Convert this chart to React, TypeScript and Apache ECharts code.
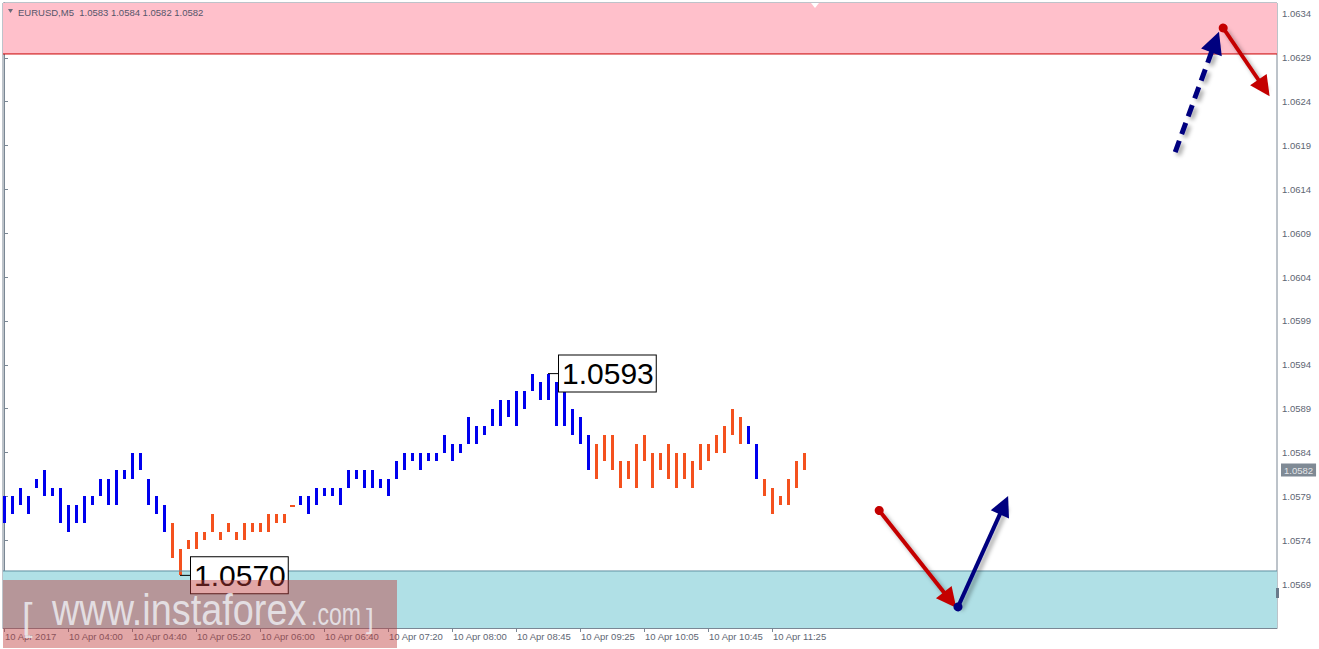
import React, { useEffect, useRef } from 'react';
import * as echarts from 'echarts';

// ---- data (EURUSD M5, 10 Apr 2017) ----
const highs = [
  1.0579, 1.0579, 1.0580, 1.0579, 1.0581, 1.0582, 1.0580, 1.0580, 1.0578, 1.0578,
  1.0579, 1.0579, 1.0581, 1.0581, 1.0582, 1.0582, 1.0584, 1.0584, 1.0581, 1.0579,
  1.0578, 1.0576, 1.0573, 1.0574, 1.0575, 1.0575, 1.0577, 1.0575, 1.0576, 1.0575,
  1.0576, 1.0576, 1.0576, 1.0577, 1.0577, 1.0577, 1.0578, 1.0579, 1.0579, 1.0580,
  1.0580, 1.0580, 1.0580, 1.0582, 1.0582, 1.0582, 1.0582, 1.0581, 1.0581, 1.0583,
  1.0584, 1.0584, 1.0584, 1.0584, 1.0584, 1.0586, 1.0585, 1.0585, 1.0588, 1.0587,
  1.0587, 1.0589, 1.0590, 1.0590, 1.0591, 1.0591, 1.0593, 1.0592, 1.0593, 1.0592,
  1.0591, 1.0589, 1.0588, 1.0586, 1.0585, 1.0586, 1.0586, 1.0583, 1.0583, 1.0585,
  1.0586, 1.0584, 1.0584, 1.0585, 1.0584, 1.0584, 1.0583, 1.0585, 1.0585, 1.0586,
  1.0587, 1.0589, 1.0588, 1.0587, 1.0585, 1.0581, 1.0580, 1.0579, 1.0581, 1.0583,
  1.0584,
];
const lows = [
  1.0576, 1.0577, 1.0578, 1.0577, 1.0580, 1.0579, 1.0579, 1.0576, 1.0575, 1.0576,
  1.0576, 1.0578, 1.0579, 1.0578, 1.0578, 1.0581, 1.0581, 1.0582, 1.0578, 1.0577,
  1.0575, 1.0572, 1.0570, 1.0573, 1.0573, 1.0574, 1.0575, 1.0574, 1.0575, 1.0574,
  1.0574, 1.0575, 1.0575, 1.0575, 1.0576, 1.0576, 1.0578, 1.0578, 1.0577, 1.0578,
  1.0579, 1.0579, 1.0578, 1.0580, 1.0581, 1.0580, 1.0580, 1.0580, 1.0579, 1.0581,
  1.0582, 1.0583, 1.0582, 1.0583, 1.0583, 1.0584, 1.0583, 1.0584, 1.0585, 1.0585,
  1.0586, 1.0587, 1.0587, 1.0588, 1.0587, 1.0589, 1.0591, 1.0590, 1.0590, 1.0587,
  1.0587, 1.0586, 1.0585, 1.0582, 1.0581, 1.0583, 1.0582, 1.0580, 1.0581, 1.0580,
  1.0583, 1.0580, 1.0582, 1.0581, 1.0580, 1.0581, 1.0580, 1.0582, 1.0583, 1.0584,
  1.0584, 1.0586, 1.0585, 1.0585, 1.0581, 1.0579, 1.0577, 1.0578, 1.0578, 1.0580,
  1.0582,
];
// wave segments: first bar index of each segment, and its direction
const segmentStarts = [0, 21, 37, 74, 93, 95];
const segmentDirs = [1, 0, 1, 0, 1, 0]; // 1 = up (blue), 0 = down (orange)

const xTickIndex = [0, 8, 16, 24, 32, 40, 48, 56, 64, 72, 80, 88, 96];
const xTickLabels = [
  '10 Apr 2017', '10 Apr 04:00', '10 Apr 04:40', '10 Apr 05:20', '10 Apr 06:00',
  '10 Apr 06:40', '10 Apr 07:20', '10 Apr 08:00', '10 Apr 08:45', '10 Apr 09:25',
  '10 Apr 10:05', '10 Apr 10:45', '10 Apr 11:25',
];
const yTickLabels = [
  '1.0569', '1.0574', '1.0579', '1.0584', '1.0589', '1.0594', '1.0599', '1.0604',
  '1.0609', '1.0614', '1.0619', '1.0624', '1.0629', '1.0634',
];

const headerText = 'EURUSD,M5  1.0583 1.0584 1.0582 1.0582';
const lastPrice = 1.0582;
const swingHigh = { index: 68, price: 1.0593 };
const swingLow = { index: 22, price: 1.057 };
const resistanceZone = [1.062944, 1.063525];
const supportZone = [1.0564, 1.05705];

// forecast arrows: [barIndex, price] start & end
const arrowDown1 = [[109.4, 1.05774], [118.25, 1.05672]];
const arrowUp1 = [[119.25, 1.05664], [125.0, 1.0578]];
const arrowUpDashed = [[146.4, 1.061826], [151.4, 1.06308]];
const arrowDown2 = [[152.4, 1.06324], [157.5, 1.062556]];

const X_MIN = -0.125;
const X_MAX = 159.125;
const Y_MIN = 1.0564;
const Y_MAX = 1.063525;

const UP = '#0000ee';
const DOWN = '#f4511e';
const FONT = 'Liberation Sans';
const AXIS = '#7a8794';
const LABEL = '#5e6673';
const WM = 'rgba(236,236,240,0.85)';

function dirOf(i: number) {
  let d = segmentDirs[0];
  for (let s = 0; s < segmentStarts.length; s++) if (i >= segmentStarts[s]) d = segmentDirs[s];
  return d;
}

function segLine(data: number[][], color: string, z = 3) {
  return {
    type: 'line',
    data,
    z,
    symbol: 'none',
    silent: true,
    clip: false,
    lineStyle: { color, width: 1, type: 'solid' },
  };
}

export default function App() {
  const ref = useRef<HTMLDivElement>(null);
  useEffect(() => {
    if (!ref.current) return;
    const chart = echarts.init(ref.current, null, { renderer: 'svg' });
    const barData = highs.map((h, i) => [i, h, lows[i], dirOf(i)]);
    const shadow = {
      shadowColor: 'rgba(0,0,0,0.35)',
      shadowBlur: 4,
      shadowOffsetX: 3,
      shadowOffsetY: 3,
    };
    const option: any = {
      animation: false,
      backgroundColor: '#ffffff',
      title: {
        text: headerText,
        left: 18,
        top: 7,
        padding: 0,
        textStyle: { fontSize: 9.5, fontWeight: 'normal', color: '#56566a', fontFamily: FONT },
      },
      grid: {
        left: 3,
        top: 3,
        width: 1274,
        height: 625,
        show: true,
        borderColor: AXIS,
        borderWidth: 1,
        backgroundColor: 'transparent',
      },
      xAxis: {
        type: 'value',
        min: X_MIN,
        max: X_MAX,
        splitLine: { show: false },
        axisLine: { show: true, lineStyle: { color: AXIS } },
        axisTick: { show: true, length: 4, customValues: xTickIndex, lineStyle: { color: AXIS } },
        axisLabel: {
          customValues: xTickIndex,
          formatter: (v: number) => {
            const k = xTickIndex.indexOf(Math.round(v));
            return k >= 0 ? xTickLabels[k] : '';
          },
          align: 'left',
          margin: 3,
          padding: [0, 0, 0, 1],
          fontSize: 9.5,
          fontFamily: FONT,
          color: LABEL,
        },
      },
      yAxis: {
        type: 'value',
        position: 'right',
        min: Y_MIN,
        max: Y_MAX,
        splitLine: { show: false },
        axisLine: { show: true, lineStyle: { color: AXIS } },
        axisTick: { show: true, length: 4, customValues: yTickLabels.map(Number), lineStyle: { color: AXIS } },
        axisLabel: {
          customValues: yTickLabels.map(Number),
          formatter: (v: number) => v.toFixed(4),
          margin: 5,
          fontSize: 9.5,
          fontFamily: FONT,
          color: LABEL,
        },
      },
      series: [
        {
          type: 'custom',
          name: 'EURUSD',
          data: barData,
          z: 2,
          renderItem: (params: any, api: any) => {
            const i = api.value(0);
            const top = api.coord([i, api.value(1)]);
            const bot = api.coord([i, api.value(2)]);
            const color = api.value(3) === 1 ? UP : DOWN;
            const x = Math.round(top[0]) - 1;
            const y1 = Math.round(top[1]);
            const y2 = Math.round(bot[1]);
            const flat = y2 - y1 < 2;
            return {
              type: 'rect',
              shape: { x: flat ? x - 1 : x, y: y1, width: flat ? 5 : 3, height: Math.max(2, y2 - y1) },
              style: { fill: color },
            };
          },
          markArea: {
            silent: true,
            data: [
              [{ yAxis: resistanceZone[0], itemStyle: { color: '#ffc0cb', opacity: 1 } }, { yAxis: resistanceZone[1] }],
              [{ yAxis: supportZone[0], itemStyle: { color: '#b0e0e6', opacity: 1 } }, { yAxis: supportZone[1] }],
            ],
          },
          markPoint: {
            silent: true,
            symbol: 'circle',
            symbolSize: 0,
            data: [
              { name: swingHigh.price.toFixed(4), coord: [swingHigh.index, swingHigh.price] },
              { name: swingLow.price.toFixed(4), coord: [swingLow.index, swingLow.price] },
            ],
            label: {
              show: true,
              position: 'right',
              distance: 11,
              formatter: '{b}',
              fontSize: 30,
              fontFamily: FONT,
              color: '#000',
              backgroundColor: '#fff',
              borderColor: '#000',
              borderWidth: 1,
              padding: [4, 2, 2, 3],
            },
          },
        },
        // zone edges
        segLine([[X_MIN, resistanceZone[0]], [X_MAX, resistanceZone[0]]], '#c80000'),
        segLine([[X_MIN, supportZone[1]], [X_MAX, supportZone[1]]], '#5f8fa0'),
        // connectors from swing bars to their labels
        segLine([[swingHigh.index, swingHigh.price], [swingHigh.index + 1.5, swingHigh.price]], '#000000', 4),
        segLine([[swingLow.index, swingLow.price], [swingLow.index + 1.4, swingLow.price]], '#000000', 4),
        // last price tag on the price scale
        {
          type: 'scatter',
          data: [[X_MAX, lastPrice]],
          symbolSize: 0,
          clip: false,
          silent: true,
          z: 10,
          label: {
            show: true,
            position: 'right',
            distance: 4,
            formatter: () => lastPrice.toFixed(4),
            backgroundColor: '#5f6d7b',
            color: '#ffffff',
            fontSize: 9.5,
            fontFamily: FONT,
            padding: [2, 3, 1, 3],
          },
        },
        {
          type: 'lines',
          coordinateSystem: 'cartesian2d',
          z: 6,
          symbol: ['circle', 'triangle'],
          symbolSize: [9, 20],
          lineStyle: { color: '#c40000', width: 4, opacity: 1, ...shadow },
          data: [{ coords: arrowDown1 }, { coords: arrowDown2 }],
        },
        {
          type: 'lines',
          coordinateSystem: 'cartesian2d',
          z: 6,
          symbol: ['circle', 'triangle'],
          symbolSize: [9, 20],
          lineStyle: { color: '#00007f', width: 4, opacity: 1, ...shadow },
          data: [{ coords: arrowUp1 }],
        },
        {
          type: 'lines',
          coordinateSystem: 'cartesian2d',
          z: 6,
          symbol: ['none', 'triangle'],
          symbolSize: [0, 22],
          lineStyle: { color: '#00007f', width: 5, opacity: 1, type: [12, 7], ...shadow },
          data: [{ coords: arrowUpDashed }],
        },
      ],
      graphic: [
        {
          type: 'polygon',
          z: 100,
          shape: { points: [[8, 9], [13, 9], [10.5, 13]] },
          style: { fill: '#6a6a7a' },
        },
        {
          type: 'polygon',
          z: 100,
          shape: { points: [[811, 3], [819, 3], [815, 8]] },
          style: { fill: '#ffffff' },
        },
        {
          type: 'rect',
          z: 100,
          shape: { x: 1276, y: 588, width: 3, height: 10 },
          style: { fill: '#6a7a8a' },
        },
        {
          type: 'rect',
          z: 100,
          shape: { x: 3, y: 580, width: 394, height: 68 },
          style: { fill: 'rgba(190,60,60,0.45)' },
        },
        {
          type: 'text',
          z: 101,
          x: 22,
          y: 617,
          style: { text: '[', font: `38px ${FONT}`, fill: WM, verticalAlign: 'middle' },
        },
        {
          type: 'text',
          z: 101,
          x: 52,
          y: 610,
          scaleX: 0.86,
          style: { text: 'www.instaforex', font: `44px ${FONT}`, fill: WM, verticalAlign: 'middle' },
        },
        {
          type: 'text',
          z: 101,
          x: 311,
          y: 614,
          scaleX: 0.72,
          style: { text: '.com', font: `32px ${FONT}`, fill: WM, verticalAlign: 'middle' },
        },
        {
          type: 'text',
          z: 101,
          x: 366,
          y: 618,
          style: { text: ']', font: `28px ${FONT}`, fill: WM, verticalAlign: 'middle' },
        },
      ],
    };
    chart.setOption(option);
    return () => chart.dispose();
  }, []);
  return (
    <div
      ref={ref}
      style={{ position: 'fixed', left: 0, top: 0, width: 1319, height: 649, background: '#fff' }}
    />
  );
}
